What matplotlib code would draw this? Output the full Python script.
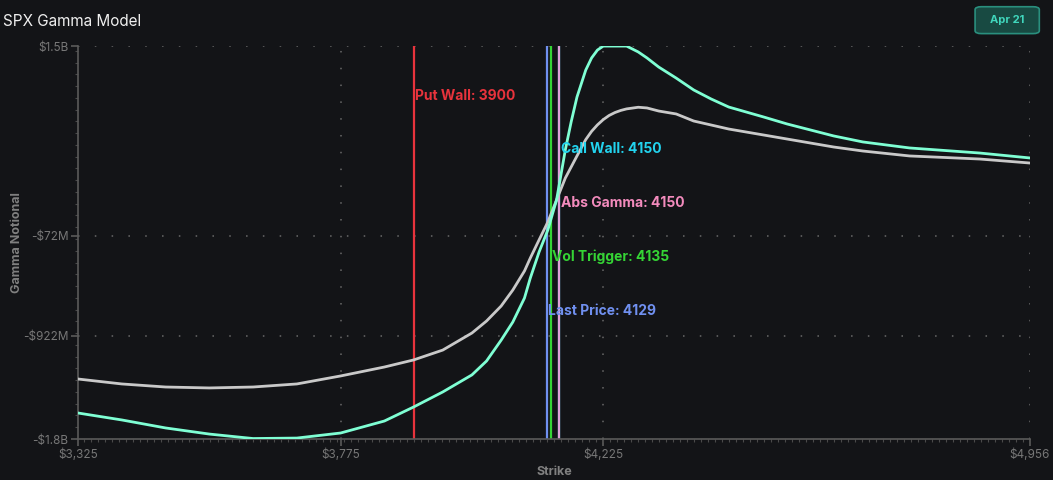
import numpy as np
import matplotlib.pyplot as plt
from matplotlib.patches import FancyBboxPatch
from matplotlib.ticker import FixedLocator, MultipleLocator

# strikes and gamma notional curves ($M)
strikes = [3325, 3400, 3475, 3550, 3625, 3700, 3775, 3850, 3900, 3950, 4000, 4025,
           4050, 4070, 4090, 4100, 4115, 4130, 4145, 4160, 4170, 4180, 4195, 4205,
           4215, 4225, 4235, 4245, 4255, 4265, 4285, 4300, 4320, 4350, 4380, 4410,
           4440, 4500, 4540, 4580, 4620, 4670, 4750, 4870, 4956]
gamma_all = [-1290, -1332, -1358, -1366, -1358, -1332, -1264, -1188, -1128, -1044, -899, -797,
             -670, -534, -372, -262, -108, 44, 232, 418, 512, 606, 745, 815,
             870, 915, 950, 975, 993, 1006, 1020, 1014, 988, 963, 903, 869,
             835, 784, 750, 716, 682, 648, 606, 580, 546]
gamma_ex = [-1579, -1638, -1706, -1758, -1796, -1792, -1749, -1647, -1528, -1400, -1255, -1137,
            -960, -806, -602, -432, -211, -24, 232, 657, 895, 1107, 1336, 1439,
            1506, 1540, 1540, 1540, 1540, 1540, 1490, 1439, 1362, 1268, 1167, 1090,
            1022, 937, 878, 827, 776, 725, 674, 631, 589]

# key levels
levels = ["Put Wall", "Call Wall", "Abs Gamma", "Vol Trigger", "Last Price"]
level_values = [3900, 4150, 4150, 4135, 4129]
level_label_y = [1115, 665, 206, -253, -712]
level_colors = ["#e8333c", "#22d3ee", "#f38bbd", "#35d435", "#7090f0"]
line_colors = ["#e8333c", "#22d3ee", "#e3a0d8", "#35d435", "#7090f0"]

x_ticks = [3325, 3775, 4225, 4956]
x_labels = ["$3,325", "$3,775", "$4,225", "$4,956"]
y_ticks = [-1800, -922, -72, 1540]
y_labels = ["-$1.8B", "-$922M", "-$72M", "$1.5B"]

bg = "#131417"
plt.rcParams['font.family'] = ['Inter', 'DejaVu Sans']

fig = plt.figure(figsize=(10.53, 4.8), dpi=100, facecolor=bg)
ax = fig.add_axes([0.0741, 0.0854, 0.9039, 0.8186], facecolor=bg)

ax.set_xlim(3325, 4956)
ax.set_ylim(-1800, 1540)

for t in x_ticks[1:]:
    ax.axvline(t, color="#6a6a6a", lw=1.1, dashes=(1, 10), zorder=0)
for t in y_ticks[1:]:
    ax.axhline(t, color="#6a6a6a", lw=1.1, dashes=(1, 10), zorder=0)

# level lines (draw call wall first so abs gamma sits on top)
order = [0, 1, 2, 4, 3]
for i in order:
    ax.axvline(level_values[i], color=line_colors[i], lw=1.6, zorder=2)

ax.plot(strikes, gamma_all, color="#c9c9c9", lw=2, zorder=3, solid_joinstyle="round")
ax.plot(strikes, gamma_ex, color="#7fffd4", lw=2, zorder=3, solid_joinstyle="round")

for i in range(len(levels)):
    ax.text(level_values[i] + 2, level_label_y[i], "{}: {}".format(levels[i], level_values[i]),
            color=level_colors[i], fontsize=10, fontweight="bold", va="center", ha="left", zorder=4)

ax.xaxis.set_major_locator(FixedLocator(x_ticks))
ax.set_xticklabels(x_labels)
ax.yaxis.set_major_locator(FixedLocator(y_ticks))
ax.set_yticklabels(y_labels)
ax.xaxis.set_minor_locator(MultipleLocator(12))
ax.yaxis.set_minor_locator(MultipleLocator(100))

for s in ["top", "right"]:
    ax.spines[s].set_visible(False)
for s in ["left", "bottom"]:
    ax.spines[s].set_color("#5a5a5a")
    ax.spines[s].set_linewidth(1.2)

ax.tick_params(axis="both", which="major", colors="#5a5a5a", labelcolor="#777777",
               labelsize=8.5, length=5, width=1.2, pad=2)
ax.tick_params(axis="both", which="minor", colors="#4a4a4a", length=2.5, width=0.8)

ax.set_xlabel("Strike", color="#808080", fontsize=9, fontweight="bold")
ax.set_ylabel("Gamma Notional", color="#808080", fontsize=9, fontweight="bold")
ax.xaxis.set_label_coords(0.5, -0.068)
ax.yaxis.set_label_coords(-0.058, 0.5)

fig.text(0.003, 0.955, "SPX Gamma Model", color="#f0f0f0", fontsize=11, va="center", ha="left")

btn = FancyBboxPatch((0.926, 0.93), 0.061, 0.056, boxstyle="round,pad=0,rounding_size=0.006",
                     transform=fig.transFigure, facecolor="#184a42", edgecolor="#2a8f7e", lw=1.2)
fig.patches.append(btn)
fig.text(0.9565, 0.958, "Apr 21", color="#40d6bc", fontsize=8, fontweight="bold",
         va="center", ha="center")

plt.savefig("out.png", dpi=100, facecolor=bg)
